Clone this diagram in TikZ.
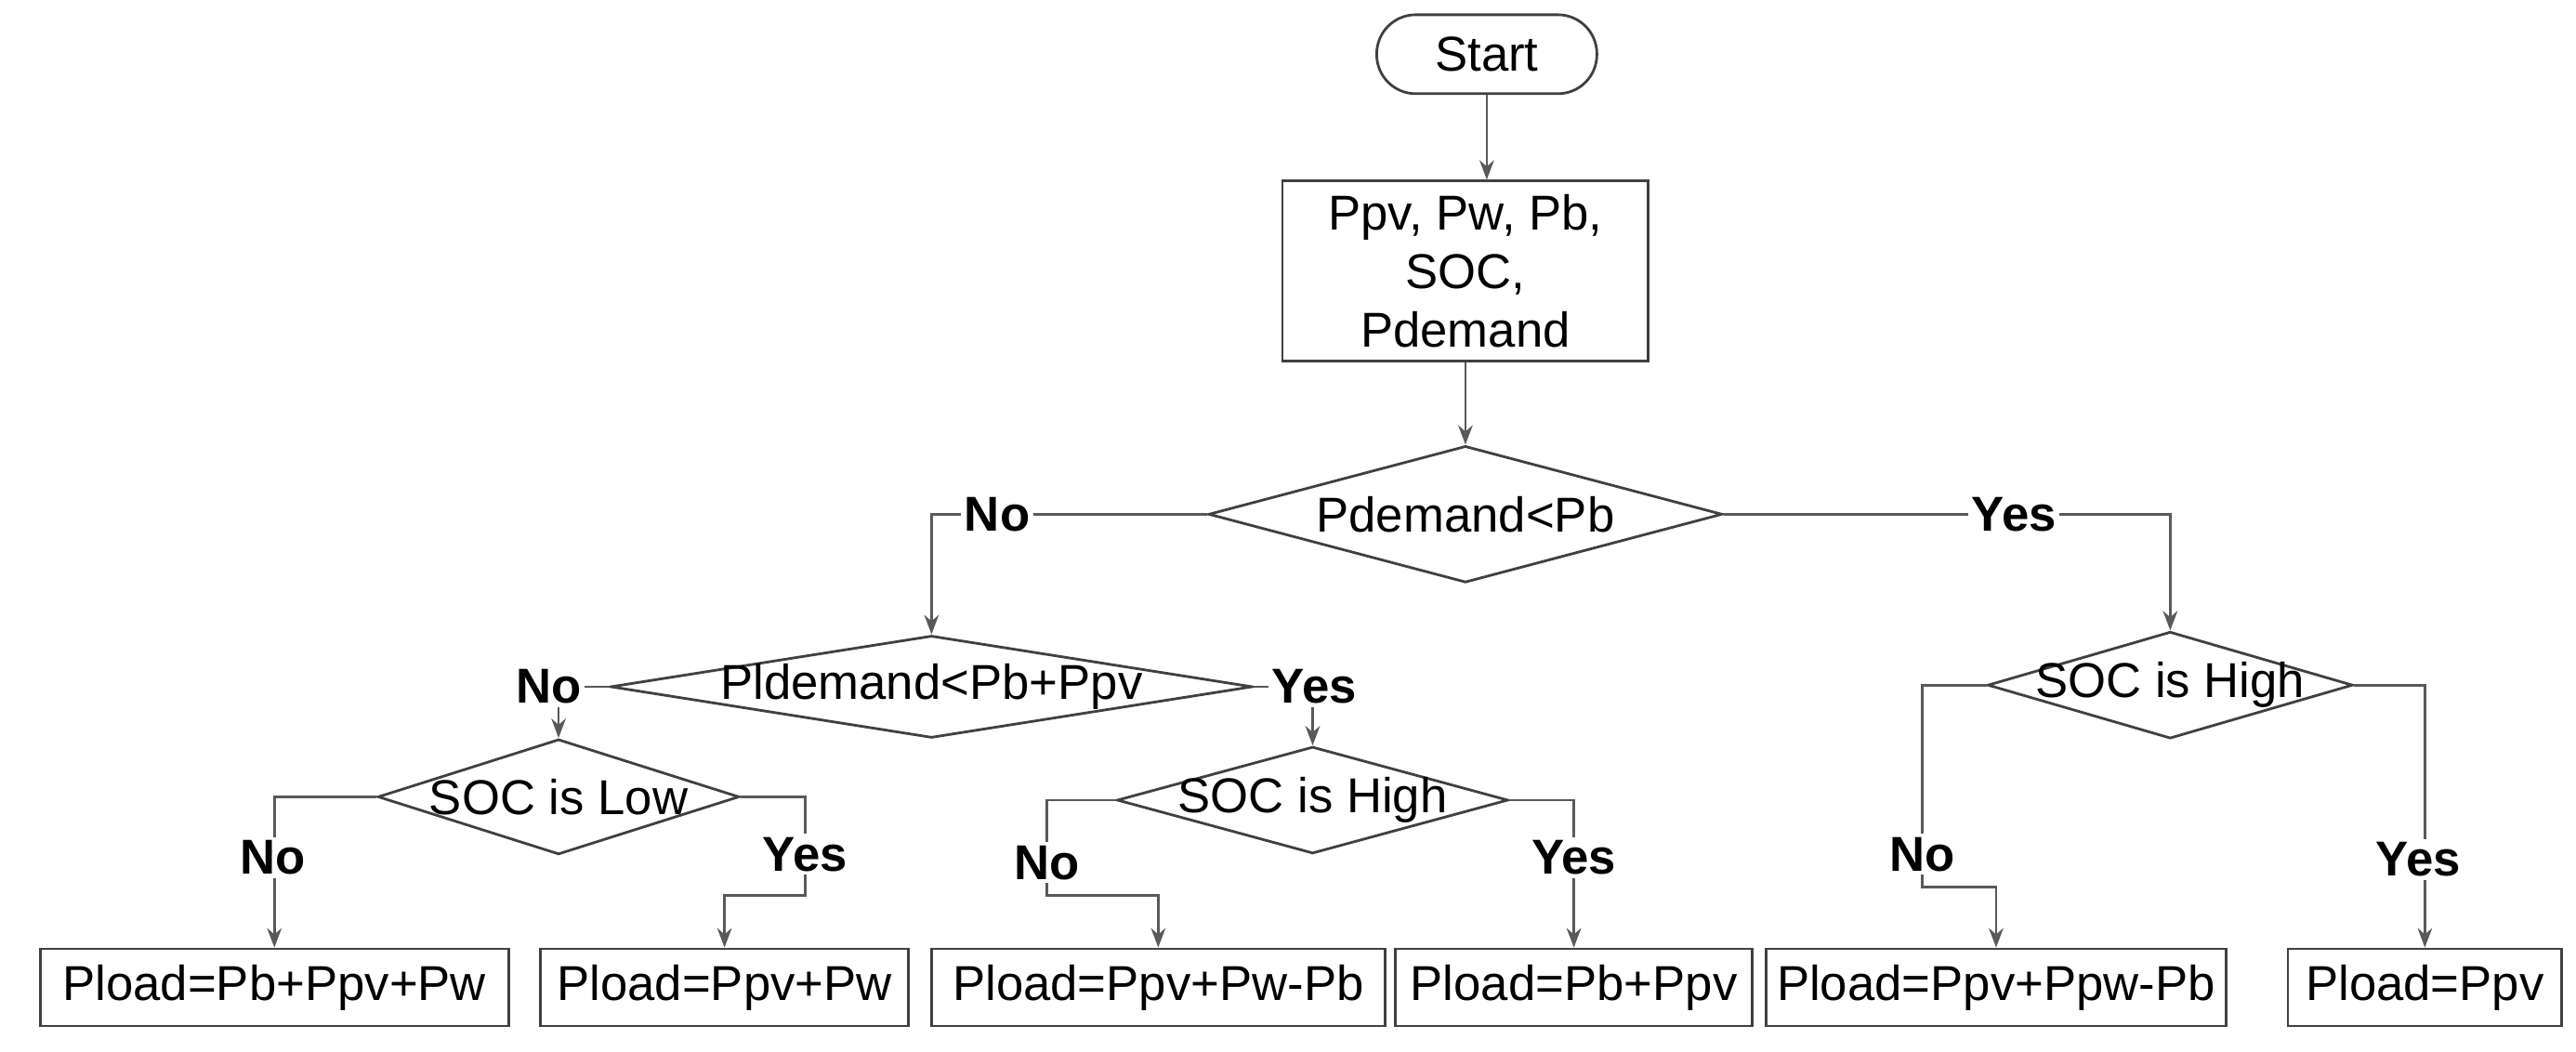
\documentclass[tikz,border=0pt]{standalone}
\usepackage{fontspec}
\setmainfont{Liberation Sans}
\usetikzlibrary{positioning,arrows.meta,shapes.geometric}

\begin{document}
\begin{tikzpicture}[
    x=0.01768cm, y=-0.01768cm,
    font=\fontsize{15}{18}\selectfont,
    line width=0.8pt,
    box/.style={
    	draw=black!75,
    	minimum height=0.83cm,
    	inner sep=2pt, align=center
    }, dia/.style={
    	draw=black!75, diamond, inner sep=0pt
    }, pil/.style={
    	-{Stealth[scale=.9]},
    	draw=black!65
    }, lab/.style={
    	fill=white, inner sep=1pt, font=\fontsize{15}{18}\selectfont\bfseries
    }]
    \useasboundingbox (0,0) rectangle (1568,640);

    \node[box, rounded corners=0.42cm, minimum width=2.37cm, minimum height=0.85cm] (start) at (905,33) {Start};
    \node[box, minimum width=3.94cm, minimum height=1.94cm] (input) at (892,165) {Ppv, Pw, Pb,\\SOC,\\Pdemand};
    \draw[pil] (start) -- (start|-input.north);

    \node[dia, minimum width=5.53cm, minimum height=1.47cm, label=center:Pdemand<Pb] (d1) at (892,313) {};
    \draw[pil] (input) -- (d1);

    \node[dia, minimum width=6.91cm, minimum height=1.10cm, label=center:Pldemand<Pb+Ppv] (d2) at (567,418) {};
    \node[dia, minimum width=3.93cm, minimum height=1.15cm, label=center:SOC is High] (d3) at (1321,417) {};
    \draw[pil] (d1.west) -| (d2.north);
    \draw[pil] (d1.east) -| (d3.north);
    \node[lab] at (607,313) {No};
    \node[lab] at (1226,313) {Yes};

    \node[dia, minimum width=3.89cm, minimum height=1.24cm, label=center:SOC is Low] (d4) at (340,485) {};
    \node[dia, minimum width=4.21cm, minimum height=1.15cm, label=center:SOC is High] (d5) at (799,487) {};
    \draw[pil] (d2.west) -| (d4.north);
    \draw[pil] (d2.east) -| (d5.north);
    \node[lab] at (334,418) {No};
    \node[lab] at (800,418) {Yes};

    % results
    \node[box, minimum width=5.04cm] (out1) at (167,601) {Pload=Pb+Ppv+Pw};
    \node[box, minimum width=3.96cm] (out2) at (441,601) {Pload=Ppv+Pw};
    \node[box, minimum width=4.88cm] (out3) at (705,601) {Pload=Ppv+Pw-Pb};
    \node[box, minimum width=3.84cm] (out4) at (958,601) {Pload=Pb+Ppv};
    \node[box, minimum width=4.95cm] (out5) at (1215,601) {Pload=Ppv+Ppw-Pb};
    \node[box, minimum width=2.95cm] (out6) at (1476,601) {Pload=Ppv};

    \coordinate (k1) at (490,545);
    \coordinate (k2) at (637,545);
    \coordinate (k3) at (1170,540);

    \draw[pil] (d4.west) -| (out1.north);
    \draw[pil] (d4.east) -| (k1) -| (out2.north);
    \draw[pil] (d5.west) -| (k2) -| (out3.north);
    \draw[pil] (d5.east) -| (out4.north);
    \draw[pil] (d3.west) -| (k3) -| (out5.north);
    \draw[pil] (d3.east) -| (out6.north);

    \node[lab] at (166,522) {No};
    \node[lab] at (490,520) {Yes};
    \node[lab] at (637,525) {No};
    \node[lab] at (958,522) {Yes};
    \node[lab] at (1170,520) {No};
    \node[lab] at (1472,523) {Yes};
\end{tikzpicture}
\end{document}
